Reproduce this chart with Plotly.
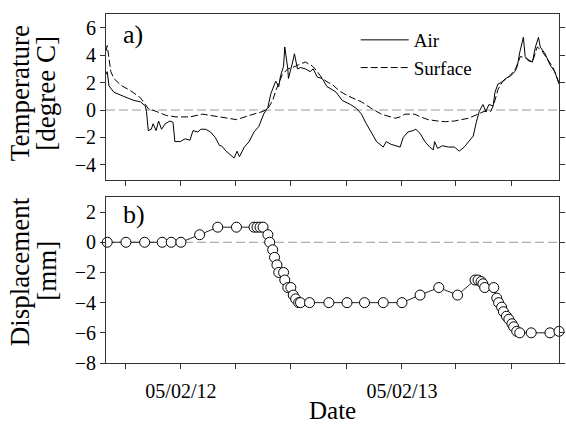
import pandas as pd
import plotly.graph_objects as go

START = "2011-10-04"

# Air temperature (day offset from START, degree C)
air_day = [0, 2, 5, 13, 29, 46, 57, 65, 67, 70, 75, 78, 83, 87, 92, 98, 106, 111, 114, 123,
           131, 139, 144, 152, 157, 165, 173, 181, 188, 191, 199, 208, 212, 217, 221, 229, 237,
           245, 253, 261, 268, 273, 278, 281, 286, 289, 294, 296, 301, 302, 309, 312, 317, 322,
           330, 338, 343, 350, 358, 366, 374, 381, 391, 405, 415, 423, 431, 440, 448, 459, 464,
           472, 480, 487, 492, 500, 508, 513, 520, 528, 536, 542, 544, 549, 557, 567, 577, 585,
           593, 601, 608, 613, 618, 624, 629, 634, 641, 644, 649, 654, 662, 670, 677, 681, 685,
           691, 694, 699, 706, 711, 716, 719, 727, 735, 743, 750]
air_temp = [2.6, 2.8, 1.75, 1.3, 1.0, 0.7, 0.6, 0.3, -0.1, -1.5, -1.4, -1.0, -1.5, -0.8, -1.4,
            -1.0, -0.8, -0.9, -2.3, -2.3, -2.1, -2.2, -1.5, -1.6, -1.4, -1.4, -1.6, -2.0, -2.6,
            -2.6, -3.0, -3.3, -3.5, -3.0, -3.4, -2.7, -2.3, -1.6, -1.2, -0.3, 0.2, 1.2, 1.7, 2.1,
            1.7, 2.5, 3.2, 4.6, 3.0, 2.3, 3.5, 4.1, 3.0, 3.1, 3.0, 2.8, 3.0, 2.4, 2.3, 1.7, 1.5,
            1.3, 0.7, 0.4, 0.1, -0.3, -1.0, -1.7, -2.3, -2.7, -2.3, -2.5, -2.6, -2.7, -2.0, -1.6,
            -1.5, -1.4, -1.7, -2.3, -2.7, -2.9, -2.3, -2.8, -2.6, -2.7, -2.7, -3.0, -2.7, -2.3,
            -1.9, -0.9, -0.1, 0.4, -0.1, 0.4, 0.3, 1.3, 1.9, 2.0, 2.3, 2.5, 2.8, 3.2, 4.2, 5.3,
            3.9, 3.6, 3.5, 4.6, 5.3, 4.6, 4.1, 3.3, 2.8, 1.9]

# Surface temperature
surf_day = [0, 2, 8, 13, 25, 41, 57, 65, 70, 83, 100, 116, 139, 160, 176, 188, 216, 237, 260,
            268, 276, 281, 286, 292, 301, 309, 319, 330, 342, 350, 358, 368, 374, 386, 402, 423,
            440, 456, 479, 487, 495, 511, 521, 533, 549, 562, 577, 600, 616, 626, 637, 642, 649,
            657, 667, 678, 686, 694, 706, 714, 722, 730, 740, 750]
surf_temp = [4.3, 4.7, 2.8, 2.3, 1.8, 1.4, 0.9, 0.4, 0.1, -0.1, -0.4, -0.5, -0.5, -0.3, -0.4,
             -0.5, -0.7, -0.4, -0.1, 0.1, 0.7, 1.4, 2.0, 2.6, 3.0, 3.1, 3.3, 3.5, 3.2, 2.8, 2.3,
             2.0, 1.9, 1.4, 1.0, 0.6, 0.1, -0.3, -0.6, -0.5, -0.3, -0.3, -0.5, -0.7, -0.8, -0.85,
             -0.8, -0.6, -0.3, -0.1, -0.1, 0.4, 1.5, 2.1, 2.4, 3.0, 3.9, 3.8, 3.5, 4.6, 4.3, 3.8,
             3.1, 2.0]

# Displacement (day offset from START, mm)
disp_day = [2, 33, 64, 93, 108, 124, 155, 185, 216, 245, 250, 255, 260, 268, 271, 276, 279,
            283, 286, 294, 296, 301, 306, 310, 314, 319, 322, 337, 369, 399, 428, 459, 490, 520,
            551, 582, 611, 616, 621, 624, 627, 642, 647, 650, 655, 658, 663, 667, 672, 675, 680,
            685, 704, 735, 750]
disp_mm = [0, 0, 0, 0, 0, 0, 0.5, 1, 1, 1, 1, 1, 1, 0.5, 0, -0.5, -1, -1.5, -2, -2, -2.5, -3,
           -3, -3.5, -3.75, -4, -4, -4, -4, -4, -4, -4, -4, -3.5, -3, -3.5, -2.5, -2.5, -2.6,
           -2.75, -3, -3, -3.7, -4, -4.3, -4.6, -4.9, -5.1, -5.4, -5.6, -5.9, -6, -6, -6, -5.9]

tick_dates = ["2011-11-05", "2012-02-05", "2012-05-05", "2012-08-05", "2012-11-05",
              "2013-02-05", "2013-05-05", "2013-08-05"]
tick_text = ["", "05/02/12", "", "", "", "05/02/13", "", ""]
x_range = ["2011-10-04", "2013-10-23"]


def to_dates(days):
    return pd.Timestamp(START) + pd.to_timedelta(days, unit="D")


# layout helpers (pixel -> paper coordinates)
W, H = 566, 435
ML, MR, MT, MB = 106, 1, 14, 72
PW, PH = W - ML - MR, H - MT - MB


def px(x):
    return (x - ML) / PW


def py(y):
    return (H - MB - y) / PH


FONT = "Liberation Serif"
fig = go.Figure()

fig.add_trace(go.Scatter(x=to_dates(air_day), y=air_temp, mode="lines", name="Air",
                         line=dict(color="black", width=1), xaxis="x", yaxis="y"))
fig.add_trace(go.Scatter(x=to_dates(surf_day), y=surf_temp, mode="lines", name="Surface",
                         line=dict(color="black", width=1, dash="7px,3px"), xaxis="x", yaxis="y"))
fig.add_trace(go.Scatter(x=to_dates(disp_day), y=disp_mm, mode="lines+markers", showlegend=False,
                         line=dict(color="#222", width=1),
                         marker=dict(symbol="circle", size=10, color="white",
                                     line=dict(color="black", width=1)),
                         cliponaxis=False, xaxis="x2", yaxis="y2"))

axis_common = dict(showline=True, linecolor="#333", linewidth=1, mirror=True, ticks="outside",
                   ticklen=5, tickcolor="#333", showgrid=False, zeroline=False,
                   tickfont=dict(family=FONT, size=20, color="black"))


def ann(text, x, y, angle=0, size=27):
    return dict(text=text, xref="paper", yref="paper", x=px(x), y=py(y), xanchor="center",
                yanchor="middle", showarrow=False, textangle=angle,
                font=dict(family=FONT, size=size, color="black"))


fig.update_layout(
    width=W, height=H,
    margin=dict(l=ML, r=MR, t=MT, b=MB),
    plot_bgcolor="white", paper_bgcolor="white",
    font=dict(family=FONT, color="black"),
    xaxis=dict(**axis_common, type="date", range=x_range, tickvals=tick_dates,
               showticklabels=False, anchor="y", domain=[0, 1]),
    yaxis=dict(**{**axis_common, "mirror": "ticks"}, range=[-5.1, 7.0],
               tickvals=[-4, -2, 0, 2, 4, 6], domain=[py(180), 1], anchor="x"),
    xaxis2=dict(**axis_common, type="date", range=x_range, tickvals=tick_dates,
                ticktext=tick_text, anchor="y2", domain=[0, 1], matches="x",
                ticklabelstandoff=5),
    yaxis2=dict(**{**axis_common, "mirror": "ticks"}, range=[-8, 3.0],
                tickvals=[-8, -6, -4, -2, 0, 2], domain=[0, py(197)], anchor="x2"),
    legend=dict(x=px(359), y=py(21), xanchor="left", yanchor="top", bgcolor="rgba(0,0,0,0)",
                font=dict(family=FONT, size=19), itemwidth=48, tracegroupgap=0),
    shapes=[
        dict(type="line", xref="x domain", yref="y", x0=0, x1=1, y0=0, y1=0,
             line=dict(color="#999", width=1, dash="9px,4px"), layer="below"),
        dict(type="line", xref="x2 domain", yref="y2", x0=0, x1=1, y0=0, y1=0,
             line=dict(color="#999", width=1, dash="9px,4px"), layer="below"),
    ],
    annotations=[
        ann("Temperature", 19, 93, -90),
        ann("[degree C]", 45, 93, -90),
        ann("Displacement", 19, 272, -90),
        ann("[mm]", 46, 271, -90),
        ann("Date", 335, 410, 0, 25),
        ann("a)", 133, 34, 0, 26),
        ann("b)", 134, 214, 0, 26),
    ],
)

fig.write_html("out.html")
